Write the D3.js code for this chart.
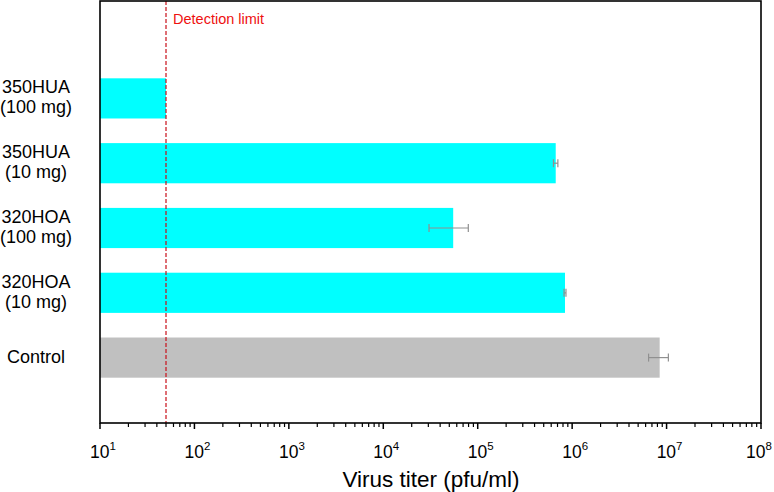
<!DOCTYPE html>
<html>
<head>
<meta charset="utf-8">
<script src="https://cdn.jsdelivr.net/npm/d3@7"></script>
<style>
  body { margin: 0; background: #fff; }
  svg { font-family: "Liberation Sans", Arial, sans-serif; }
</style>
</head>
<body>
<div id="chart"></div>
<script>
// groups, top to bottom
const groups = [
  ["350HUA", "(100 mg)"],
  ["350HUA", "(10 mg)"],
  ["320HOA", "(100 mg)"],
  ["320HOA", "(10 mg)"],
  ["Control"]
];
const titers = [50, 6.7e5, 5.5e4, 8.4e5, 8.45e6];
const errors = [0, 3.6e4, 2.45e4, 2.0e4, 2.0e6];
const barColors = ["#00ffff", "#00ffff", "#00ffff", "#00ffff", "#c0c0c0"];
const detectionLimit = 50;
const tickExps = [1, 2, 3, 4, 5, 6, 7, 8];

(function () {
  const W = 774, H = 492;
  const margin = { top: 1, right: 13, bottom: 69, left: 100 };
  const width = W - margin.left - margin.right;
  const height = H - margin.top - margin.bottom;

  const svg = d3.select("#chart").append("svg")
    .attr("width", W).attr("height", H);
  const g = svg.append("g")
    .attr("transform", `translate(${margin.left},${margin.top})`);

  const x = d3.scaleLog().domain([1e1, 1e8]).range([0, width]);
  const y = d3.scaleBand()
    .domain(d3.range(groups.length))
    .range([65, 389])
    .paddingInner(0.38)
    .paddingOuter(0.19);

  // bars
  g.selectAll(".bar").data(titers).join("rect")
    .attr("class", "bar")
    .attr("x", 0)
    .attr("y", (d, i) => y(i))
    .attr("width", d => x(d))
    .attr("height", y.bandwidth())
    .attr("fill", (d, i) => barColors[i]);

  // error bars
  const errG = g.append("g").attr("stroke", "#909090").attr("stroke-width", 1.2);
  titers.forEach((d, i) => {
    if (!errors[i]) return;
    const cy = y(i) + y.bandwidth() / 2;
    const x0 = x(d - errors[i]), x1 = x(d + errors[i]);
    errG.append("line").attr("x1", x0).attr("x2", x1).attr("y1", cy).attr("y2", cy);
    [x0, x1].forEach(xx => errG.append("line")
      .attr("x1", xx).attr("x2", xx).attr("y1", cy - 4).attr("y2", cy + 4));
  });

  // detection limit
  g.append("line")
    .attr("x1", x(detectionLimit)).attr("x2", x(detectionLimit))
    .attr("y1", 0).attr("y2", height)
    .attr("stroke", "#c8101a").attr("stroke-width", 1.2)
    .attr("stroke-dasharray", "4,2");
  g.append("text")
    .attr("x", x(detectionLimit) + 7).attr("y", 22.5)
    .attr("fill", "#ee1010").attr("font-size", "14.5px")
    .text("Detection limit");

  // x axis with minor ticks
  const minor = [];
  for (let e = 1; e < 8; e++) for (let m = 2; m <= 9; m++) minor.push(m * Math.pow(10, e));
  const xAxisG = g.append("g").attr("transform", `translate(0,${height})`);
  xAxisG.selectAll(".minor").data(minor).join("line")
    .attr("x1", d => x(d)).attr("x2", d => x(d))
    .attr("y1", 0).attr("y2", 4)
    .attr("stroke", "#000").attr("stroke-width", 1.2);
  xAxisG.selectAll(".major").data(tickExps).join("line")
    .attr("x1", d => x(Math.pow(10, d))).attr("x2", d => x(Math.pow(10, d)))
    .attr("y1", 0).attr("y2", 6)
    .attr("stroke", "#000").attr("stroke-width", 1.5);
  const lbl = xAxisG.selectAll(".tl").data(tickExps).join("text")
    .attr("x", d => Math.min(x(Math.pow(10, d)) + 3, width - 2))
    .attr("y", 35)
    .attr("text-anchor", "middle")
    .attr("font-size", "17.5px")
    .attr("fill", "#000");
  lbl.append("tspan").text("10");
  lbl.append("tspan").attr("dy", -8).attr("font-size", "11.5px").text(d => d);

  // frame
  g.append("rect")
    .attr("x", 0).attr("y", 0).attr("width", width).attr("height", height)
    .attr("fill", "none").attr("stroke", "#000").attr("stroke-width", 1.6);

  // axis title
  g.append("text")
    .attr("x", 331).attr("y", height + 64)
    .attr("text-anchor", "middle")
    .attr("font-size", "22.5px")
    .text("Virus titer (pfu/ml)");

  // category labels
  groups.forEach((lines, i) => {
    const cy = y(i) + y.bandwidth() / 2;
    const t = svg.append("text")
      .attr("x", 36)
      .attr("y", margin.top + cy - (lines.length - 1) * 10 + 5)
      .attr("text-anchor", "middle")
      .attr("font-size", "18px");
    lines.forEach((s, k) => t.append("tspan")
      .attr("x", 36).attr("dy", k === 0 ? 0 : 20).text(s));
  });
})();
</script>
</body>
</html>
